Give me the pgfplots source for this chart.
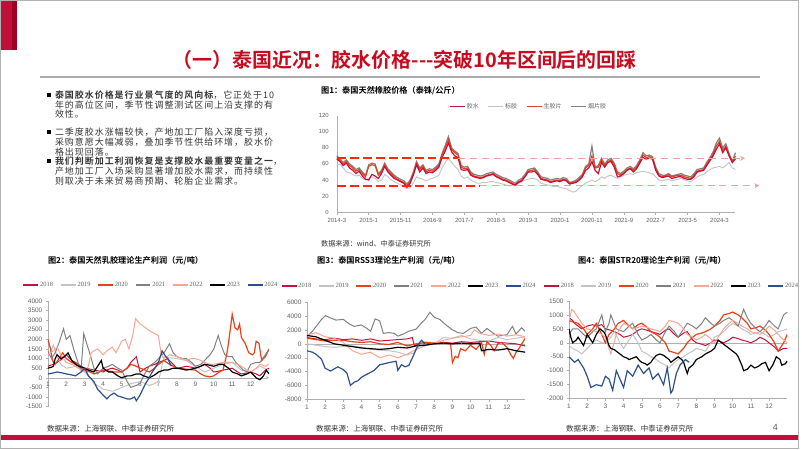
\documentclass[border=0pt]{standalone}
\usepackage{fontspec}
\setmainfont{Liberation Sans}
\newfontfamily\cjk{Noto Sans CJK SC}
\newfontfamily\cjkb{Noto Sans CJK SC Bold}
\newfontfamily\cjkt{Noto Sans CJK SC}[LetterSpace=11]
\newfontfamily\cjktb{Noto Sans CJK SC Bold}[LetterSpace=11]
\newfontfamily\serif{Liberation Serif}
\usepackage{pgfplots}
\usepackage{pgfplotstable}
\pgfplotsset{compat=1.18}
\usetikzlibrary{arrows.meta}

\definecolor{c18}{RGB}{200,16,60}
\definecolor{c19}{RGB}{195,195,195}
\definecolor{c20}{RGB}{232,64,24}
\definecolor{c21}{RGB}{128,128,128}
\definecolor{c22}{RGB}{248,165,145}
\definecolor{c23}{RGB}{0,0,0}
\definecolor{c24}{RGB}{45,80,140}
\definecolor{slred}{RGB}{192,16,58}
\definecolor{sldark}{RGB}{158,0,36}
\definecolor{ttl}{RGB}{200,10,30}
\definecolor{dred}{RGB}{250,40,10}
\definecolor{dpink}{RGB}{240,160,160}
\definecolor{axg}{RGB}{175,175,175}
\definecolor{tkg}{RGB}{95,95,95}
\definecolor{txt}{RGB}{50,50,50}

\pgfplotsset{
  legend image code/.code={\draw[#1,line width=1.6pt] (0pt,0pt) -- (15pt,0pt);},
  prof/.style={scale only axis, xmin=1, xmax=13, xtick={1,...,12},
    axis y line*=left, axis line style={axg,-}, tick style={axg,line width=0.5pt},
    major tick length=2pt, tick align=outside,
    ticklabel style={font=\fontsize{6.5}{7}\selectfont, text=tkg},
    /pgf/number format/assume math mode=true, /pgf/number format/1000 sep={},
    legend columns=-1,
    legend style={draw=none, fill=none, font=\serif\fontsize{6.5}{7}\selectfont, text=tkg,
      anchor=center, nodes={inner sep=1pt},
      /tikz/every even column/.append style={column sep=5.9pt}},
  },
}

% month index from 2014-3; yan=烟片胶, sheng=生胶片, jiao=胶水, biao=标胶
\pgfplotstableread{
m yan sheng jiao biao
0 70 68 66 58
1 66 64 63 60
2 62 60 58 55
3 65 63 61 50
4 60 58 55 49
5 57 55 52 47
6 53 51 48 45
7 55 53 51 46
8 50 48 45 42
9 46 44 41 40
10 59 57 40 42
11 61 59 47 44
12 60 58 45 42
13 48 46 42 38
14 52 50 48 40
15 61 59 57 47
16 54 52 50 44
17 50 48 46 40
18 46 44 42 38
19 43 41 40 36
20 41 39 38 34
21 39 37 36 32
22 35 33 31 29
23 40 38 36 31
24 50 48 46 36
25 63 61 59 44
26 55 53 50 42
27 59 57 55 41
28 52 50 48 39
29 54 52 50 41
30 53 51 49 42
31 56 54 52 44
32 60 58 56 46
33 73 71 68 55
34 83 80 76 62
35 94 90 86 67
36 80 78 75 62
37 76 74 70 57
38 73 71 68 53
39 58 56 53 45
40 56 54 52 42
41 57 55 53 44
42 50 48 46 40
43 47 45 44 38
44 46 44 43 36
45 45 43 42 36
46 46 44 43 37
47 48 46 45 37
48 49 47 46 38
49 50 48 47 38
50 47 45 44 37
51 45 43 42 36
52 43 41 40 35
53 42 40 39 34
54 40 38 37 33
55 38 36 35 33
56 36 34 34 33
57 40 38 37 36
58 42 40 39 38
59 47 45 44 40
60 53 51 50 41
61 54 52 50 42
62 55 53 51 42
63 50 48 47 40
64 44 42 41 36
65 43 41 40 35
66 42 40 39 34
67 40 38 37 33
68 41 39 38 32
69 42 40 39 32
70 41 39 38 31
71 43 41 40 30
72 42 40 39 29
73 37 36 35 27
74 38 37 36 25
75 40 38 37 26
76 43 41 40 30
77 47 45 44 33
78 57 55 52 36
79 60 58 55 38
80 82 70 63 40
81 56 55 52 38
82 58 56 48 40
83 67 65 62 44
84 60 58 56 42
85 65 63 62 45
86 67 65 63 46
87 61 59 56 44
88 50 48 44 42
89 48 46 45 44
90 51 49 48 46
91 55 53 52 47
92 57 55 54 48
93 54 52 50 47
94 58 56 54 49
95 65 63 61 50
96 74 71 68 51
97 70 68 66 50
98 71 69 67 49
99 69 67 66 48
100 56 54 52 44
101 48 46 45 40
102 46 44 43 39
103 46 45 44 40
104 48 47 45 41
105 45 44 42 39
106 46 45 43 40
107 47 46 44 41
108 48 46 44 42
109 46 44 42 40
110 45 43 41 39
111 44 42 41 38
112 48 46 44 41
113 53 51 50 44
114 54 52 51 46
115 55 53 52 47
116 62 60 58 50
117 68 66 64 53
118 75 72 70 55
119 86 82 78 56
120 92 88 85 57
121 80 77 74 55
122 85 82 80 58
123 73 71 70 62
124 63 62 62 55
125 74 70 66 53
}\thaiprice

\begin{document}
\begin{tikzpicture}[x=1pt,y=1pt]
\path (0,0) rectangle (802,451);
% slide decoration
\fill[slred] (0,401) rectangle (12.5,451);
\fill[sldark] (12.5,401) rectangle (17,451);
\node[text=ttl, font=\cjkb\fontsize{20}{22}\selectfont] at (406,391) {（一）泰国近况：胶水价格---突破10年区间后的回踩};
\draw[gray!65, line width=2pt] (40,374) -- (763,374);
\fill[slred] (0,9.5) rectangle (802,14.5);
\draw[gray!60, line width=1pt] (0.5,0.5) rectangle (801.5,450.5);
\node[text=tkg, font=\fontsize{9}{10}\selectfont] at (778,22) {4};

% bullets
\fill[black] (46.7,353.7) rectangle (50.7,357.7);
\fill[black] (46.7,316.3) rectangle (50.7,320.3);
\fill[black] (46.7,287) rectangle (50.7,291);
\begin{scope}[every node/.style={anchor=base west, inner sep=0pt, text=txt, font=\cjkt\fontsize{9}{10}\selectfont}]
\node at (55,352.6) {{\cjktb 泰国胶水价格是行业景气度的风向标}，它正处于10};
\node at (55,342.6) {年的高位区间，季节性调整测试区间上沿支撑的有};
\node at (55,332.6) {效性。};
\node at (55,314.9) {二季度胶水涨幅较快，产地加工厂陷入深度亏损，};
\node at (55,304.9) {采购意愿大幅减弱，叠加季节性供给环增，胶水价};
\node at (55,294.9) {格出现回落。};
\node at (55,285.9) {{\cjktb 我们判断加工利润恢复是支撑胶水最重要变量之一}，};
\node at (55,275.9) {产地加工厂入场采购显著增加胶水需求，而持续性};
\node at (55,265.9) {则取决于未来贸易商预期、轮胎企业需求。};
\end{scope}

% titles and sources
\begin{scope}[every node/.style={anchor=west, inner sep=0pt, text=black}]
\node[font=\cjkb\fontsize{8.2}{9}\selectfont] at (322,360) {图1：泰国天然橡胶价格（泰铢/公斤）};
\node[font=\cjkb\fontsize{8.2}{9}\selectfont] at (48,189) {图2：泰国天然乳胶理论生产利润（元/吨）};
\node[font=\cjkb\fontsize{8.2}{9}\selectfont] at (318,189) {图3：泰国RSS3理论生产利润（元/吨）};
\node[font=\cjkb\fontsize{8.2}{9}\selectfont] at (580,189) {图4：泰国STR20理论生产利润（元/吨）};
\node[text=txt, font=\cjk\fontsize{7.2}{8}\selectfont] at (322,206) {数据来源：wind、中泰证券研究所};
\node[text=txt, font=\cjk\fontsize{7.5}{8}\selectfont] at (47,21) {数据来源：上海钢联、中泰证券研究所};
\node[text=txt, font=\cjk\fontsize{7.5}{8}\selectfont] at (317,21) {数据来源：上海钢联、中泰证券研究所};
\node[text=txt, font=\cjk\fontsize{7.5}{8}\selectfont] at (568,21) {数据来源：上海钢联、中泰证券研究所};
\end{scope}

% chart 1
\begin{axis}[at={(338pt,238pt)}, anchor=south west, scale only axis, width=400pt, height=97pt,
  xmin=0, xmax=125, ymin=0, ymax=120, ytick={0,20,...,120},
  xtick={0,10,...,120},
  xticklabels={2014-3,2015-1,2015-11,2016-9,2017-7,2018-5,2019-3,2020-1,2020-11,2021-9,2022-7,2023-5,2024-3},
  axis x line*=bottom, axis y line*=left, axis line style={axg,-},
  xtick style={axg,line width=0.5pt}, ytick style={draw=none},
  major tick length=2.5pt, tick align=outside,
  ticklabel style={font=\fontsize{6}{7}\selectfont, text=tkg},
  yticklabel style={xshift=-2pt},
  /pgf/number format/assume math mode=true,
  clip=false, legend columns=-1,
  legend style={draw=none, fill=none, at={(0.48,1.093)}, anchor=center,
    font=\cjk\fontsize{6}{7}\selectfont, text=tkg, nodes={inner sep=1pt},
    /tikz/every even column/.append style={column sep=8pt}},
]
\addlegendimage{c18, line width=1.3pt}\addlegendentry{胶水}
\addlegendimage{c19, line width=1.3pt}\addlegendentry{标胶}
\addlegendimage{c20, line width=1.3pt}\addlegendentry{生胶片}
\addlegendimage{c21, line width=1.3pt}\addlegendentry{烟片胶}
\addplot[c19, line width=0.9pt, forget plot] table[x=m, y=biao] {\thaiprice};
\addplot[c21, line width=1.2pt, forget plot] table[x=m, y=yan] {\thaiprice};
\addplot[c20, line width=1.2pt, forget plot] table[x=m, y=sheng] {\thaiprice};
\addplot[c18, line width=1.2pt, forget plot] table[x=m, y=jiao] {\thaiprice};
\draw[dred, line width=2.2pt, dash pattern=on 9pt off 4pt] (axis cs:0,67) -- (axis cs:38,67);
\draw[dpink, line width=1.4pt, dash pattern=on 7pt off 5pt, -{Stealth[length=5pt,width=5pt]}] (axis cs:38,67) -- (axis cs:128,67);
\draw[dred, line width=2.2pt, dash pattern=on 9pt off 4pt] (axis cs:0,33) -- (axis cs:45,33);
\draw[dpink, line width=1.4pt, dash pattern=on 7pt off 5pt, -{Stealth[length=5pt,width=5pt]}] (axis cs:45,33) -- (axis cs:132.5,33);
\end{axis}

% chart 2
\begin{axis}[prof, at={(48pt,43pt)}, anchor=south west, width=222pt, height=106pt,
  ymin=-1500, ymax=4000, ytick={-1500,-1000,...,4000},
  axis x line=middle, xtick style={draw=none},
  hide obscured x ticks=false, hide obscured y ticks=false,
  legend style={at={(0.464,1.151)}}]
\addplot[c18, line width=1pt] coordinates {(1,600) (1.3,700) (1.5,800) (1.8,1000) (2,1200) (2.3,900) (2.5,800) (2.8,600) (3,500) (3.3,450) (3.5,400) (3.8,350) (4,300) (4.3,450) (4.5,500) (4.8,400) (5,300) (5.3,500) (5.5,800) (5.8,1100) (6,300) (6.3,500) (6.5,600) (6.8,700) (7,800) (7.3,900) (7.5,1000) (7.8,700) (8,500) (8.3,550) (8.5,600) (8.8,550) (9,500) (9.3,600) (9.5,700) (9.8,500) (10,300) (10.3,350) (10.5,400) (10.8,450) (11,500) (11.3,300) (11.5,200) (11.8,250) (12,300) (12.3,200) (12.5,100) (12.8,400) (13,500)};
\addlegendentry{2018}
\addplot[c19, line width=1pt] coordinates {(1,1000) (1.3,1700) (1.5,1100) (1.7,700) (2,500) (2.3,550) (2.5,600) (2.8,450) (3,300) (3.3,0) (3.5,-300) (3.8,-450) (4,-600) (4.3,-650) (4.5,-700) (4.8,-600) (5,-500) (5.3,-400) (5.5,-300) (5.8,-250) (6,-200) (6.3,-300) (6.5,-400) (6.8,-300) (7,-200) (7.3,1100) (7.5,1050) (8,1000) (8.5,900) (9,600) (9.5,300) (10,500) (10.5,700) (11,800) (11.5,400) (12,300) (12.5,600) (13,400)};
\addlegendentry{2019}
\addplot[c20, line width=1.2pt] coordinates {(1,2000) (1.15,1500) (1.25,900) (1.4,700) (1.6,1000) (1.8,1300) (2,1000) (2.3,800) (2.5,700) (2.8,500) (3,400) (3.3,300) (3.5,200) (3.8,300) (4,400) (4.3,350) (4.6,300) (5,300) (5.3,500) (5.5,700) (5.8,600) (6,500) (6.3,400) (6.5,300) (6.8,500) (7,700) (7.3,900) (7.6,700) (8,500) (8.5,450) (9,400) (9.3,200) (9.5,100) (9.8,50) (10,100) (10.3,300) (10.5,400) (10.7,1200) (10.8,1800) (11,3300) (11.15,2600) (11.3,2500) (11.4,2800) (11.5,2100) (11.7,1800) (11.9,1300) (12.1,1200) (12.2,1300) (12.3,1900) (12.45,1800) (12.6,900) (12.8,1100) (13,1500)};
\addlegendentry{2020}
\addplot[c21, line width=1pt] coordinates {(1,1400) (1.2,1000) (1.4,1300) (1.6,1800) (1.85,2550) (2,2000) (2.2,2200) (2.4,1500) (2.6,900) (2.8,400) (2.95,2300) (3.1,1800) (3.3,1200) (3.5,500) (3.7,200) (4,500) (4.3,600) (4.5,700) (4.8,500) (5,400) (5.3,-200) (5.5,-500) (5.8,-400) (6,-300) (6.2,100) (6.5,600) (6.8,800) (7,1000) (7.3,1300) (7.6,1770) (7.8,1300) (8,1100) (8.3,1000) (8.5,1000) (8.8,800) (9,600) (9.3,700) (9.5,900) (9.8,1200) (10,1500) (10.24,2200) (10.4,1700) (10.6,1200) (10.8,1100) (11,1100) (11.2,800) (11.4,600) (11.6,400) (11.8,300) (12,700) (12.3,800) (12.5,800) (12.8,1200) (13,1500)};
\addlegendentry{2021}
\addplot[c22, line width=1pt] coordinates {(1,1200) (1.3,1400) (1.5,1600) (1.7,1200) (2,800) (2.3,700) (2.5,600) (2.8,400) (3,300) (3.2,600) (3.35,1300) (3.5,1400) (3.7,1500) (4,1200) (4.2,1400) (4.5,1600) (4.7,1300) (5,1900) (5.2,2000) (5.4,1500) (5.6,2200) (5.76,3080) (6,2800) (6.3,2600) (6.6,2400) (7,2200) (7.15,1200) (7.3,1000) (7.6,1200) (8,1100) (8.3,1000) (8.5,900) (8.8,1000) (9,1000) (9.3,900) (9.5,800) (9.8,700) (10,700) (10.5,800) (11,800) (11.3,700) (11.5,600) (11.8,400) (12,300) (12.3,500) (12.5,700) (12.8,600) (13,700)};
\addlegendentry{2022}
\addplot[c23, line width=1.2pt] coordinates {(1,500) (1.2,550) (1.3,600) (1.4,1000) (1.5,1200) (1.7,1000) (1.9,1100) (2.1,1300) (2.3,900) (2.5,700) (2.7,600) (3,500) (3.2,400) (3.5,300) (3.7,600) (3.9,900) (4,500) (4.3,300) (4.5,300) (4.8,100) (5,0) (5.3,100) (5.5,100) (5.8,200) (6,200) (6.2,100) (6.5,0) (6.8,150) (7,300) (7.3,400) (7.5,400) (7.8,500) (8,500) (8.3,450) (8.5,400) (8.8,450) (9,500) (9.3,600) (9.5,700) (9.8,650) (10,600) (10.3,700) (10.5,700) (10.8,500) (11,300) (11.3,200) (11.5,100) (11.8,200) (12,300) (12.3,0) (12.5,-100) (12.7,100) (12.85,400) (13,200)};
\addlegendentry{2023}
\addplot[c24, line width=1.2pt] coordinates {(1,200) (1.3,250) (1.5,300) (1.8,250) (2,200) (2.3,150) (2.5,100) (2.8,300) (3,500) (3.2,100) (3.5,-200) (3.7,-600) (4,-900) (4.2,-1100) (4.4,-900) (4.6,-800) (4.8,-950) (5,-1000) (5.3,-1100) (5.5,-1100) (5.7,-1000) (5.8,-1200) (6,-900) (6.1,-700) (6.3,-300) (6.5,0) (6.6,200) (6.8,500) (7,800) (7.2,1400) (7.4,1100) (7.5,1000) (7.7,600)};
\addlegendentry{2024}
\end{axis}

% chart 3
\begin{axis}[prof, at={(308pt,50pt)}, anchor=south west, width=219pt, height=98pt,
  ymin=-8000, ymax=6000, ytick={-8000,-6000,...,6000},
  axis x line*=bottom, legend style={at={(0.466,1.163)}}]
\addplot[axg, line width=0.6pt, forget plot] coordinates {(1,0) (13,0)};
\addplot[c18, line width=1pt] coordinates {(1,900) (1.5,700) (2,600) (2.5,800) (3,600) (3.5,700) (4,500) (4.5,700) (5,400) (5.5,500) (6,600) (6.5,700) (6.8,900) (6.9,-300) (7.2,0) (7.5,100) (8,0) (8.5,200) (9,100) (9.5,300) (10,200) (10.5,300) (11,400) (11.5,200) (12,100) (12.5,0) (13,-300)};
\addlegendentry{2018}
\addplot[c19, line width=1pt] coordinates {(1,0) (1.5,-200) (2,-400) (2.5,-500) (3,-400) (3.5,-300) (4,-500) (4.5,-800) (5,-900) (5.5,-1000) (6,-1200) (6.5,-1600) (6.9,-1300) (7.2,-200) (7.5,300) (8,0) (8.5,900) (9,800) (9.5,1200) (10,700) (10.5,500) (11,400) (11.5,900) (12,600) (12.5,800) (13,1000)};
\addlegendentry{2019}
\addplot[c20, line width=1.2pt] coordinates {(1,800) (1.5,600) (2,400) (2.5,500) (3,500) (3.5,300) (4,200) (4.5,300) (5,0) (5.5,-100) (6,200) (6.5,-300) (7,0) (7.5,200) (8,100) (8.5,200) (8.9,0) (9.0,-2700) (9.15,-1800) (9.3,-2000) (9.45,-700) (9.7,-1000) (10,-200) (10.3,-800) (10.6,200) (10.75,-1500) (10.9,300) (11.1,-200) (11.3,-1000) (11.5,0) (11.7,200) (12,-500) (12.2,-1500) (12.35,-2100) (12.5,-1200) (12.7,-500) (13,800)};
\addlegendentry{2020}
\addplot[c21, line width=1pt] coordinates {(1,1000) (1.3,1800) (1.6,2800) (1.8,3500) (2.02,4040) (2.3,3700) (2.6,3400) (3,3500) (3.3,2900) (3.6,2500) (4,2700) (4.3,2200) (4.5,1800) (4.75,3570) (5,3300) (5.2,1500) (5.5,1600) (5.8,1500) (6,1100) (6.3,1400) (6.6,1800) (7,2100) (7.3,3000) (7.5,3500) (7.76,4520) (8,3800) (8.3,3500) (8.6,2800) (9,2000) (9.3,1600) (9.6,1500) (10,2200) (10.3,2400) (10.6,1500) (10.9,2200) (11.2,1600) (11.5,1100) (12,1300) (12.3,2500) (12.5,1400) (12.8,2300) (13,1800)};
\addlegendentry{2021}
\addplot[c22, line width=1pt] coordinates {(1,1300) (1.5,1600) (2,1000) (2.5,800) (3,200) (3.5,-1000) (4,-1500) (4.5,-1200) (5,-2000) (5.5,-1600) (6,-2000) (6.5,-1500) (7,-800) (7.5,-300) (8,0) (8.5,500) (9,800) (9.5,1000) (10,1200) (10.2,2000) (10.5,1500) (11,1200) (11.5,1400) (12,1100) (12.5,1300) (13,1000)};
\addlegendentry{2022}
\addplot[c23, line width=1.2pt] coordinates {(1,1200) (1.5,1000) (2,500) (2.5,0) (3,-200) (3.5,-400) (4,-600) (4.5,-700) (5,-800) (5.5,-700) (6,-500) (6.5,-600) (7,-300) (7.5,-200) (8,0) (8.5,100) (9,0) (9.5,100) (10,0) (10.5,100) (10.6,-1000) (11,-800) (11.5,-900) (12,-700) (12.5,-1000) (13,-1200)};
\addlegendentry{2023}
\addplot[c24, line width=1.2pt] coordinates {(1,-1000) (1.3,-1200) (1.5,-1500) (1.8,-2200) (2,-3500) (2.3,-3900) (2.5,-3600) (2.7,-3300) (3,-3700) (3.2,-4200) (3.39,-5960) (3.6,-5500) (3.8,-5300) (4,-4800) (4.2,-4500) (4.5,-4100) (4.7,-3800) (5,-3000) (5.2,-2900) (5.5,-2700) (5.9,-2500) (6.0,-3800) (6.2,-3000) (6.4,-3300) (6.6,-3100) (6.8,-2000) (7.0,-800) (7.2,200) (7.3,500) (7.5,0)};
\addlegendentry{2024}
\end{axis}

% chart 4
\begin{axis}[prof, at={(571pt,51pt)}, anchor=south west, width=219pt, height=98pt,
  ymin=-2000, ymax=1500, ytick={-2000,-1500,...,1500},
  axis x line*=bottom, legend style={at={(0.468,1.153)}}]
\addplot[axg, line width=0.6pt, forget plot] coordinates {(1,0) (13,0)};
\addplot[c18, line width=1pt] coordinates {(1,900) (1.2,800) (1.3,700) (1.5,600) (1.7,500) (2,600) (2.3,650) (2.5,600) (2.8,650) (3,500) (3.3,450) (3.5,400) (3.8,300) (4,200) (4.3,250) (4.5,300) (4.8,450) (5,500) (5.3,450) (5.5,400) (5.8,350) (6,300) (6.3,450) (6.5,500) (6.8,300) (7,200) (7.3,350) (7.5,400) (7.8,100) (8,0) (8.3,-50) (8.5,-100) (8.8,0) (9,100) (9.3,50) (9.5,0) (9.8,100) (10,200) (10.3,150) (10.5,100) (10.8,50) (11,0) (11.3,100) (11.5,200) (11.8,100) (12,0) (12.3,-150) (12.5,-300) (12.8,-200) (13,-200)};
\addlegendentry{2018}
\addplot[c19, line width=1pt] coordinates {(1,-100) (1.2,-200) (1.5,-300) (1.7,-400) (2,-200) (2.3,0) (2.5,100) (2.8,0) (3,0) (3.3,200) (3.5,400) (3.8,0) (4,-200) (4.3,100) (4.5,300) (4.8,0) (5,-300) (5.3,-400) (5.5,-500) (5.8,-600) (6,-700) (6.3,-800) (6.5,-900) (6.8,-700) (7,-600) (7.3,-500) (7.5,-400) (7.8,-300) (8,-200) (8.3,-250) (8.5,-300) (8.8,0) (9,200) (9.3,300) (9.5,400) (9.8,600) (10,700) (10.3,600) (10.5,500) (10.8,400) (11,300) (11.3,350) (11.5,400) (11.8,300) (12,200) (12.3,300) (12.5,400) (12.8,450) (13,500)};
\addlegendentry{2019}
\addplot[c20, line width=1.2pt] coordinates {(1,800) (1.2,750) (1.5,700) (1.8,500) (2,300) (2.3,500) (2.5,700) (2.8,300) (3,0) (3.2,300) (3.5,500) (3.7,700) (4,800) (4.3,600) (4.5,500) (4.8,650) (5,700) (5.3,550) (5.5,400) (5.8,300) (6,200) (6.3,0) (6.5,-300) (6.8,-350) (7,-400) (7.3,-200) (7.5,0) (7.8,200) (8,300) (8.3,350) (8.5,400) (8.8,500) (9,600) (9.3,800) (9.5,1000) (9.8,1050) (10,1100) (10.3,1000) (10.5,900) (10.8,700) (11,500) (11.3,550) (11.5,600) (11.8,450) (12,300) (12.3,0) (12.5,-300) (12.8,0) (13,300)};
\addlegendentry{2020}
\addplot[c21, line width=1pt] coordinates {(1,300) (1.2,500) (1.5,500) (1.8,300) (2,200) (2.3,400) (2.5,500) (2.8,1000) (3,400) (3.2,700) (3.3,1000) (3.6,500) (4,400) (4.3,600) (4.5,700) (4.8,300) (5,100) (5.3,200) (5.5,300) (5.8,100) (6,0) (6.3,400) (6.5,600) (6.8,400) (7,200) (7.3,500) (7.5,700) (7.8,600) (8,500) (8.3,700) (8.5,900) (8.8,700) (9,600) (9.3,700) (9.5,800) (9.8,900) (10,800) (10.3,600) (10.6,1200) (10.8,900) (11,700) (11.3,500) (11.5,400) (11.8,600) (12,800) (12.3,600) (12.5,500) (12.8,1000) (13,1100)};
\addlegendentry{2021}
\addplot[c22, line width=1pt] coordinates {(1,800) (1.15,1200) (1.3,1100) (1.5,900) (1.7,700) (2,500) (2.3,450) (2.5,400) (2.8,300) (3,200) (3.3,-400) (3.6,300) (4,700) (4.3,600) (4.5,500) (4.8,550) (5,600) (5.3,550) (5.5,500) (5.8,450) (6,400) (6.3,600) (6.5,800) (6.8,750) (7,700) (7.3,500) (7.5,300) (7.8,200) (8,100) (8.3,200) (8.5,300) (8.8,150) (9,0) (9.3,300) (9.5,500) (9.8,700) (10,800) (10.3,700) (10.5,600) (10.8,500) (11,400) (11.3,350) (11.5,300) (11.8,450) (12,600) (12.3,450) (12.5,300) (12.8,100) (13,0)};
\addlegendentry{2022}
\addplot[c23, line width=1.2pt] coordinates {(1,500) (1.1,200) (1.2,0) (1.4,100) (1.5,200) (1.7,0) (1.8,-100) (2,300) (2.2,100) (2.3,0) (2.5,300) (2.7,500) (2.9,400) (3,300) (3.2,-100) (3.3,-200) (3.5,-250) (3.6,-300) (3.8,-400) (4,-500) (4.2,-550) (4.3,-600) (4.5,-550) (4.7,-500) (4.9,-650) (5,-700) (5.2,-750) (5.3,-800) (5.5,-700) (5.6,-600) (5.8,-450) (6,-400) (6.2,-450) (6.3,-500) (6.5,-600) (6.6,-700) (6.8,-600) (7,-500) (7.2,-600) (7.3,-700) (7.5,-1100) (7.6,-900) (7.8,-800) (8,-600) (8.3,-500) (8.5,-400) (8.8,-300) (9,-200) (9.2,100) (9.4,0) (9.6,-100) (9.8,-200) (10,-300) (10.2,-400) (10.3,-500) (10.5,-800) (10.6,-1000) (10.8,-950) (11,-800) (11.2,-900) (11.4,-850) (11.6,-750) (11.8,-700) (12,-1000) (12.2,-800) (12.4,-500) (12.6,-600) (12.7,-800) (12.9,-750) (13,-650)};
\addlegendentry{2023}
\addplot[c24, line width=1.2pt] coordinates {(1,-500) (1.3,-700) (1.5,-600) (1.8,-900) (2,-1200) (2.2,-1600) (2.5,-1500) (2.8,-1550) (3,-1200) (3.2,-1300) (3.4,-1700) (3.6,-1000) (3.8,-1300) (4,-1600) (4.2,-1000) (4.5,-1200) (4.8,-800) (5.1,-1100) (5.4,-900) (5.6,-1300) (5.9,-1100) (6.2,-1500) (6.4,-900) (6.6,-1800) (6.7,-1700) (6.9,-1100) (7.1,-800) (7.4,-600) (7.6,-700)};
\addlegendentry{2024}
\end{axis}
\end{tikzpicture}
\end{document}
